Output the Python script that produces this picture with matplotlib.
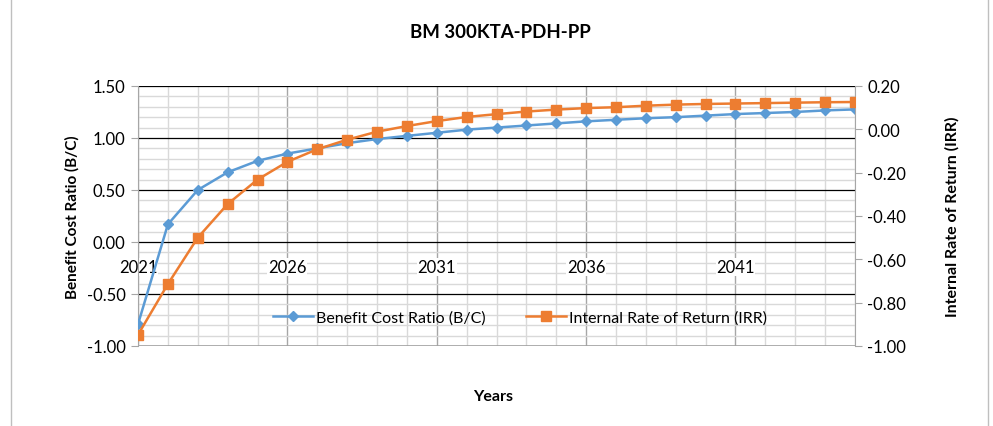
import matplotlib
matplotlib.use("Agg")
import matplotlib.pyplot as plt
from matplotlib.lines import Line2D
from matplotlib.ticker import MultipleLocator, FormatStrFormatter, NullFormatter

plt.rcParams['font.family'] = ['Lato', 'DejaVu Sans']

# data
years = list(range(2021, 2046))
bcr = [-0.79, 0.17, 0.50, 0.67, 0.78, 0.85, 0.90, 0.95, 0.99, 1.02,
       1.05, 1.08, 1.10, 1.12, 1.14, 1.16, 1.175, 1.19, 1.20, 1.215,
       1.23, 1.24, 1.25, 1.265, 1.275]
irr = [-0.948, -0.714, -0.50, -0.345, -0.232, -0.15, -0.092, -0.048, -0.011, 0.015,
       0.038, 0.057, 0.07, 0.082, 0.091, 0.098, 0.102, 0.109, 0.114, 0.117,
       0.119, 0.121, 0.123, 0.125, 0.126]
year_labels = [2021, 2026, 2031, 2036, 2041]

blue = '#5B9BD5'
orange = '#ED7D31'

fig = plt.figure(figsize=(9.93, 4.27), dpi=100)
ax = fig.add_axes([0.139, 0.1874, 0.722, 0.6089])
ax2 = ax.twinx()

# left axis
ax.set_xlim(2021, 2045)
ax.set_ylim(-1.0, 1.5)
ax.yaxis.set_major_locator(MultipleLocator(0.5))
ax.yaxis.set_minor_locator(MultipleLocator(0.1))
ax.yaxis.set_major_formatter(FormatStrFormatter('%.2f'))
ax.set_xticks(year_labels)
ax.set_xticks(years, minor=True)
ax.xaxis.set_major_formatter(NullFormatter())

# grid
ax.grid(which='minor', axis='both', color='#d9d9d9', linewidth=1.0)
ax.grid(which='major', axis='y', color='black', linewidth=0.9)
ax.grid(which='major', axis='x', color='#a6a6a6', linewidth=1.0)
ax.set_axisbelow(True)

for s in ['top', 'right', 'bottom']:
    ax.spines[s].set_visible(False)
ax.spines['left'].set_color('#a6a6a6')
ax.axhline(-1.0, color='#a6a6a6', linewidth=1.2, zorder=1)
ax.tick_params(axis='x', which='both', length=0)
ax.tick_params(axis='y', which='major', length=5, color='#a6a6a6', labelsize=12, pad=4)
ax.tick_params(axis='y', which='minor', length=0)

# year labels sit just under the zero line (Excel axis crossing at 0)
for yr in year_labels:
    ax.annotate(str(yr), xy=(yr, 0), xytext=(0, -25), textcoords='offset pixels',
                ha='center', va='center', fontsize=12, zorder=2,
                bbox=dict(facecolor='white', edgecolor='none', pad=0.5))

l1, = ax.plot(years, bcr, color=blue, linewidth=1.8, marker='D', markersize=5,
              label='Benefit Cost Ratio (B/C)', zorder=3)

# right axis
ax2.set_ylim(-1.0, 0.2)
ax2.yaxis.set_major_locator(MultipleLocator(0.2))
ax2.yaxis.set_major_formatter(FormatStrFormatter('%.2f'))
for s in ['top', 'left', 'bottom']:
    ax2.spines[s].set_visible(False)
ax2.spines['right'].set_color('#a6a6a6')
ax2.tick_params(axis='y', length=5, color='#a6a6a6', labelsize=12, pad=4)

l2, = ax2.plot(years, irr, color=orange, linewidth=1.8, marker='s', markersize=7,
               label='Internal Rate of Return (IRR)', zorder=3)

ax.set_ylabel('Benefit Cost Ratio (B/C)', fontsize=11, fontweight='bold', labelpad=5)
ax2.set_ylabel('Internal Rate of Return (IRR)', fontsize=11.5, fontweight='bold', labelpad=28)
fig.text(0.497, 0.07, 'Years', ha='center', va='center', fontsize=11.5, fontweight='bold')
fig.text(0.504, 0.925, 'BM 300KTA-PDH-PP', ha='center', va='center', fontsize=13.4, fontweight='bold')

ax2.legend(handles=[l1, l2], loc='center', bbox_to_anchor=(0.533, 0.11), ncol=2,
           frameon=False, fontsize=11.5, handlelength=2.5, columnspacing=2.5, handletextpad=0.2)

# chart border
fig.add_artist(Line2D([0.011, 0.011], [0, 1], color='#bfbfbf', linewidth=1, transform=fig.transFigure))
fig.add_artist(Line2D([0.995, 0.995], [0, 1], color='#bfbfbf', linewidth=1, transform=fig.transFigure))

fig.savefig('out.png', dpi=100)
